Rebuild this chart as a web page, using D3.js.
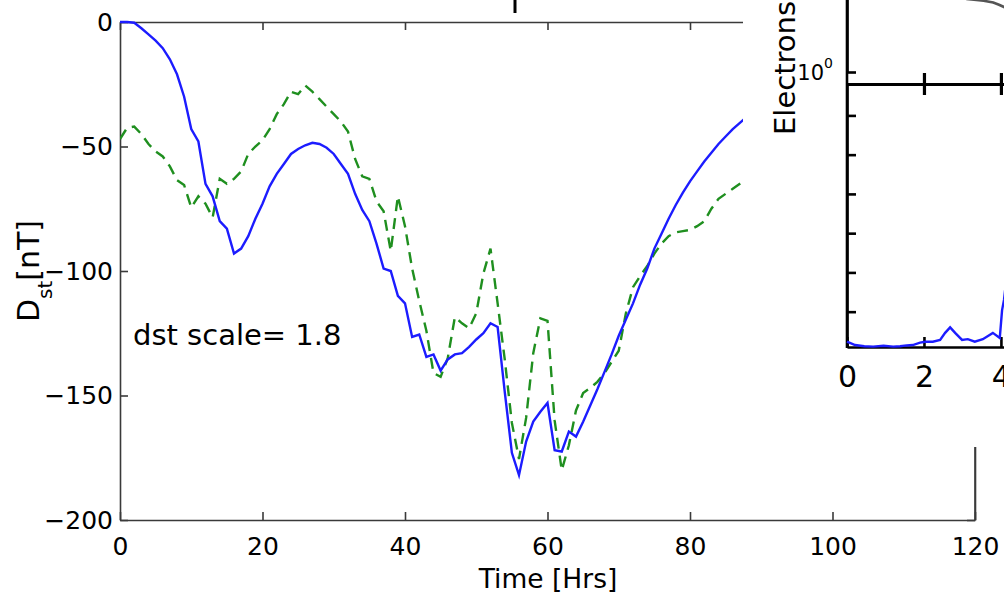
<!DOCTYPE html>
<html>
<head>
<meta charset="utf-8">
<script src="https://cdn.jsdelivr.net/npm/d3@7"></script>
<style>
body { margin: 0; background: #fff; }
svg { display: block; }
text { font-family: "DejaVu Sans", sans-serif; fill: #000; }
</style>
</head>
<body>
<svg id="chart" width="1004" height="593"></svg>
<script>
// hourly samples, 0..88 hrs
const hours = d3.range(0, 89);
const modelDst = [0, 0, -0.3, -2.5, -5, -7.5, -10.5, -15, -21, -30,
    -43, -48, -65, -70, -80, -83, -93, -91, -86, -79,
    -73, -66, -61, -57, -53, -51, -49.5, -48.5, -49, -50.5,
    -53, -57, -61, -69, -75.5, -80, -89, -99, -100, -110,
    -113, -126.5, -125.5, -134.5, -133.5, -140, -135.5, -133.5, -133, -130.5,
    -127.5, -125, -121, -122.5, -148.5, -173, -182, -168.5, -160.5, -156.5,
    -153, -172, -172.5, -164.5, -166.5, -160.5, -154, -147.5, -140.5, -133.5,
    -126, -119.5, -113, -105.5, -99, -91, -85, -79, -73.5, -68.5,
    -64, -60, -56, -52.5, -49, -46, -43, -40.5, -38];
const observedDst = [-47, -42.5, -42, -45, -49, -52, -54, -58, -63.5, -65.5,
    -74.5, -70, -73, -78.5, -63, -65, -63, -60, -53, -50,
    -47.5, -43, -37, -33, -28, -29, -25.5, -28, -31, -34,
    -37, -40, -44, -55, -62, -63, -72, -76, -92, -70,
    -82, -99, -112, -124, -141, -142.5, -135, -118.5, -121, -123,
    -117, -101, -91, -113, -135.5, -161, -175.5, -159, -133, -119,
    -120, -160, -180, -170, -156, -149, -147, -144.5, -141, -136.5,
    -132, -117, -106.5, -102, -98, -93, -89, -86, -84.5, -84,
    -83.5, -82, -80, -75, -71, -69, -67, -65, -63];
const xTicks = [0, 20, 40, 60, 80, 100, 120];
const yTicks = [0, -50, -100, -150, -200];

// inset (electrons panel, partly visible)
const insetTime = [0, 0.21, 0.45, 0.68, 0.95, 1.2, 1.38, 1.55, 1.71, 1.9, 2.03, 2.23, 2.42, 2.55, 2.68, 2.81, 2.99, 3.14, 3.32, 3.53, 3.79, 3.97, 4.03, 4.08, 4.15];
const insetFlux = [0.135, 0.05, 0.02, 0.01, 0.03, 0.01, 0.02, 0.04, 0.05, 0.11, 0.135, 0.135, 0.18, 0.36, 0.5, 0.36, 0.18, 0.2, 0.135, 0.2, 0.36, 0.23, 0.94, 1.2, 1.8];
const insetTopTime = [3.1, 3.3, 3.55, 3.8, 3.95, 4.1];
const insetTopFlux = [2.4, 2.38, 2.35, 2.3, 2.24, 2.17];
const insetTicks = [0, 2, 4];
const insetMinorTicks = [0.9, 1.9, 2.9, 3.9, 4.9, 5.9];

const svg = d3.select("#chart");
const axisColor = "#3a3a3a";

let x = d3.scaleLinear().domain([0, 120]).range([120, 975]);
let y = d3.scaleLinear().domain([-200, 0]).range([520, 22]);

const styleAxis = (g, color, width, size) => {
    g.attr("font-family", null).attr("font-size", size);
    g.selectAll("path, line").attr("stroke", color).attr("stroke-width", width);
    g.selectAll("text").attr("fill", "#000");
}

// main axes box
svg.append("g").attr("transform", "translate(0,520)")
    .call(d3.axisBottom(x).tickValues(xTicks).tickSizeInner(-8).tickSizeOuter(0).tickPadding(17))
    .call(g => styleAxis(g, axisColor, 1.6, 25));
svg.append("g").attr("transform", "translate(0,22)")
    .call(d3.axisTop(x).tickValues(xTicks).tickSizeInner(-8).tickSizeOuter(0).tickFormat(""))
    .call(g => styleAxis(g, axisColor, 1.6, 25));
svg.append("g").attr("transform", "translate(120,0)")
    .call(d3.axisLeft(y).tickValues(yTicks).tickSizeInner(-8).tickSizeOuter(0).tickPadding(7))
    .call(g => styleAxis(g, axisColor, 1.6, 25));
svg.append("g").attr("transform", "translate(975,0)")
    .call(d3.axisRight(y).tickValues(yTicks).tickSizeInner(-8).tickSizeOuter(0).tickFormat(""))
    .call(g => styleAxis(g, axisColor, 1.6, 25));

svg.append("clipPath").attr("id", "plotArea")
    .append("rect").attr("x", 120).attr("y", 20).attr("width", 855).attr("height", 502);

const line = (vals) => d3.line().x((d, i) => x(hours[i])).y(d => y(d))(vals);

svg.append("path")
    .attr("clip-path", "url(#plotArea)")
    .attr("d", line(observedDst))
    .attr("fill", "none")
    .attr("stroke", "#1f8f1f")
    .attr("stroke-width", 2.4)
    .attr("stroke-dasharray", "11,7");

svg.append("path")
    .attr("clip-path", "url(#plotArea)")
    .attr("d", line(modelDst))
    .attr("fill", "none")
    .attr("stroke", "#1c1cff")
    .attr("stroke-width", 2.4);

svg.append("text")
    .attr("x", 133).attr("y", 345)
    .attr("font-size", 29)
    .text("dst scale= 1.8");

svg.append("text")
    .attr("x", 548).attr("y", 588)
    .attr("text-anchor", "middle")
    .attr("font-size", 26.5)
    .text("Time [Hrs]");

svg.append("text")
    .attr("transform", "translate(39,271) rotate(-90)")
    .attr("text-anchor", "middle")
    .attr("font-size", 30)
    .call(t => {
        t.append("tspan").text("D");
        t.append("tspan").attr("font-size", 20).attr("dy", 13).text("st");
        t.append("tspan").attr("dy", -13).text("[nT]");
    });

// clipped title fragment above the axes
svg.append("line")
    .attr("x1", 515).attr("x2", 515).attr("y1", 0).attr("y2", 13)
    .attr("stroke", "#000").attr("stroke-width", 3);

// ---- inset panel ----
svg.append("rect")
    .attr("x", 743).attr("y", 0).attr("width", 261).attr("height", 447)
    .attr("fill", "#fff");

let ix = d3.scaleLinear().domain([0, 4.08]).range([847, 1004]);
let iyLow = d3.scaleLinear().domain([0, 6.7]).range([347, 84]);
let iyTop = d3.scaleLog().domain([1, 10]).range([72, -120]);

svg.append("g").attr("transform", "translate(0,347)")
    .call(d3.axisBottom(ix).tickValues(insetTicks).tickFormat(d3.format("d"))
        .tickSizeInner(-10).tickSizeOuter(0).tickPadding(19))
    .call(g => styleAxis(g, "#000", 2.6, 30));
svg.append("g").attr("transform", "translate(0,84)")
    .call(d3.axisBottom(ix).tickValues([2, 4]).tickSizeInner(-11).tickSizeOuter(0).tickFormat(""))
    .call(g => styleAxis(g, "#000", 3.2, 30));
svg.append("g").attr("transform", "translate(0,84)")
    .call(d3.axisTop(ix).tickValues([2, 4]).tickSizeInner(-11).tickSizeOuter(0).tickFormat(""))
    .call(g => styleAxis(g, "#000", 3.2, 30));
svg.append("g").attr("transform", "translate(847,0)")
    .call(d3.axisLeft(iyLow).tickValues(insetMinorTicks).tickSizeInner(-9).tickSizeOuter(0).tickFormat(""))
    .call(g => styleAxis(g, "#000", 2.6, 20));
svg.append("g").attr("transform", "translate(847,0)")
    .call(d3.axisLeft(iyTop).tickValues([1]).tickSizeInner(-9).tickSizeOuter(0).tickFormat(""))
    .call(g => styleAxis(g, "#000", 2.6, 20));
svg.append("line")
    .attr("x1", 847).attr("x2", 847).attr("y1", 0).attr("y2", 348)
    .attr("stroke", "#000").attr("stroke-width", 2.6);

svg.append("text")
    .attr("x", 833).attr("y", iyTop(1) + 8)
    .attr("text-anchor", "end")
    .attr("font-size", 21)
    .attr("fill", "#222")
    .call(t => {
        t.append("tspan").text("10");
        t.append("tspan").attr("font-size", 14).attr("dy", -12).text("0");
    });

svg.append("text")
    .attr("transform", "translate(795,135) rotate(-90)")
    .attr("font-size", 29)
    .text("Electrons");

svg.append("path")
    .attr("d", d3.line().x((d, i) => ix(insetTime[i])).y(d => iyLow(d))(insetFlux))
    .attr("fill", "none")
    .attr("stroke", "#1c1cff")
    .attr("stroke-width", 2.4);

svg.append("path")
    .attr("d", d3.line().x((d, i) => ix(insetTopTime[i])).y(d => iyTop(d))(insetTopFlux))
    .attr("fill", "none")
    .attr("stroke", "#555")
    .attr("stroke-width", 2.6);

// right edge of main box below the inset
svg.append("line")
    .attr("x1", 975).attr("x2", 975).attr("y1", 447).attr("y2", 520)
    .attr("stroke", axisColor).attr("stroke-width", 1.6);
</script>
</body>
</html>
